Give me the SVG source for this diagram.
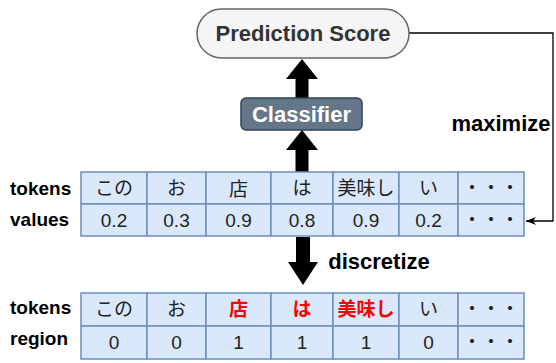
<svg xmlns="http://www.w3.org/2000/svg" width="556" height="363" viewBox="0 0 556 363">
<defs>
<style>
.cell{fill:#dae8fc;stroke:#6c8ebf;stroke-width:1.5}
.tx{font-family:"Liberation Sans","Noto Sans CJK JP",sans-serif;font-size:19px;fill:#222;text-anchor:middle}
.jp{font-family:"Noto Sans CJK JP","Liberation Sans",sans-serif;font-size:19px;fill:#222;text-anchor:middle}
.red{fill:#ff0000;font-weight:bold}
.lbl{font-family:"Liberation Sans",sans-serif;font-size:19px;font-weight:bold;fill:#000}
.big{font-family:"Liberation Sans",sans-serif;font-size:22px;font-weight:bold}
.fat{fill:#000}
</style>
<marker id="ah" viewBox="0 0 10 10" refX="10" refY="5" markerWidth="10" markerHeight="10" markerUnits="userSpaceOnUse" orient="auto">
<path d="M0,1 L10,5 L0,9 L3,5 Z" fill="#000"/>
</marker>
</defs>
<rect width="556" height="363" fill="#fff"/>

<g id="connectors">
<path d="M409,33 H553 V221 H526" fill="none" stroke="#000" stroke-width="1.3" marker-end="url(#ah)"/>
<path class="fat" d="M295.5,98 V79 H286 L302,59 L318,79 H308.5 V98 Z"/>
<path class="fat" d="M295.5,172 V150 H286 L302,130 L318,150 H308.5 V172 Z"/>
<path class="fat" d="M296,237 V262 H288 L303,285 L318,262 H310 V237 Z"/>
</g>

<g id="prediction-score">
<rect x="197" y="9" width="212" height="49" rx="24.5" fill="#f5f5f5" stroke="#666" stroke-width="1.5"/>
<text class="big" x="303" y="41" text-anchor="middle" fill="#333" font-size="23">Prediction Score</text>
</g>

<g id="classifier">
<rect x="241" y="98" width="121" height="32" rx="5" fill="#647687" stroke="#314354" stroke-width="1.5"/>
<text class="big" x="301.5" y="122" text-anchor="middle" fill="#fff" font-size="22.5">Classifier</text>
</g>

<g id="maximize-label">
<text class="big" x="501" y="131" text-anchor="middle" fill="#000">maximize</text>
</g>

<g id="discretize-label">
<text class="big" x="379" y="269" text-anchor="middle" fill="#000" font-size="23">discretize</text>
</g>

<g id="table-values">
<text class="lbl" x="10" y="195">tokens</text>
<text class="lbl" x="10" y="226">values</text>
<rect class="cell" x="81" y="172" width="66" height="32"/>
<rect class="cell" x="147" y="172" width="59" height="32"/>
<rect class="cell" x="206" y="172" width="65" height="32"/>
<rect class="cell" x="271" y="172" width="62" height="32"/>
<rect class="cell" x="333" y="172" width="66" height="32"/>
<rect class="cell" x="399" y="172" width="59" height="32"/>
<rect class="cell" x="458" y="172" width="66" height="32"/>
<rect class="cell" x="81" y="204" width="66" height="32"/>
<rect class="cell" x="147" y="204" width="59" height="32"/>
<rect class="cell" x="206" y="204" width="65" height="32"/>
<rect class="cell" x="271" y="204" width="62" height="32"/>
<rect class="cell" x="333" y="204" width="66" height="32"/>
<rect class="cell" x="399" y="204" width="59" height="32"/>
<rect class="cell" x="458" y="204" width="66" height="32"/>
<text class="jp" x="114" y="195">この</text>
<text class="jp" x="176.5" y="195">お</text>
<text class="jp" x="238.5" y="196" font-size="21">店</text>
<text class="jp" x="302" y="195">は</text>
<text class="jp" x="366" y="195">美味し</text>
<text class="jp" x="428.5" y="195">い</text>
<text class="jp" x="491" y="195">・・・</text>
<text class="tx" x="114" y="227">0.2</text>
<text class="tx" x="176.5" y="227">0.3</text>
<text class="tx" x="238.5" y="227">0.9</text>
<text class="tx" x="302" y="227">0.8</text>
<text class="tx" x="366" y="227">0.9</text>
<text class="tx" x="428.5" y="227">0.2</text>
<text class="jp" x="491" y="227">・・・</text>
</g>

<g id="table-region">
<text class="lbl" x="10" y="314">tokens</text>
<text class="lbl" x="10" y="345">region</text>
<rect class="cell" x="81" y="293" width="66" height="33"/>
<rect class="cell" x="147" y="293" width="59" height="33"/>
<rect class="cell" x="206" y="293" width="65" height="33"/>
<rect class="cell" x="271" y="293" width="62" height="33"/>
<rect class="cell" x="333" y="293" width="66" height="33"/>
<rect class="cell" x="399" y="293" width="59" height="33"/>
<rect class="cell" x="458" y="293" width="66" height="33"/>
<rect class="cell" x="81" y="326" width="66" height="33"/>
<rect class="cell" x="147" y="326" width="59" height="33"/>
<rect class="cell" x="206" y="326" width="65" height="33"/>
<rect class="cell" x="271" y="326" width="62" height="33"/>
<rect class="cell" x="333" y="326" width="66" height="33"/>
<rect class="cell" x="399" y="326" width="59" height="33"/>
<rect class="cell" x="458" y="326" width="66" height="33"/>
<text class="jp" x="114" y="316">この</text>
<text class="jp" x="176.5" y="316">お</text>
<text class="jp red" x="238.5" y="316">店</text>
<text class="jp red" x="302" y="316">は</text>
<text class="jp red" x="366" y="316">美味し</text>
<text class="jp" x="428.5" y="316">い</text>
<text class="jp" x="491" y="316">・・・</text>
<text class="tx" x="114" y="349">0</text>
<text class="tx" x="176.5" y="349">0</text>
<text class="tx" x="238.5" y="349">1</text>
<text class="tx" x="302" y="349">1</text>
<text class="tx" x="366" y="349">1</text>
<text class="tx" x="428.5" y="349">0</text>
<text class="jp" x="491" y="349">・・・</text>
</g>
</svg>
